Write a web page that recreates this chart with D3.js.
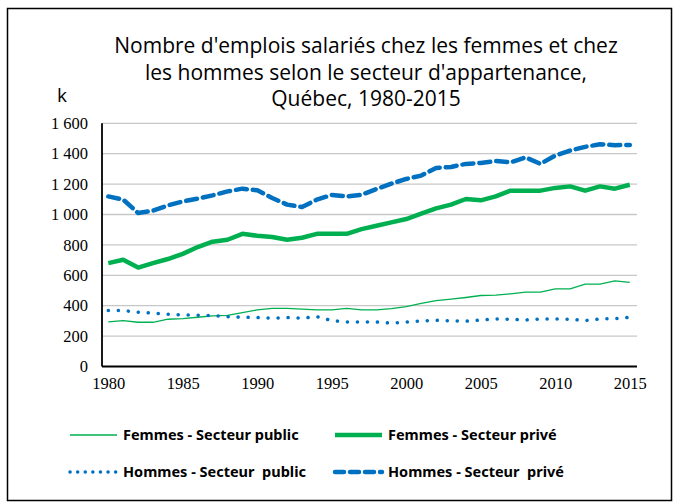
<!DOCTYPE html>
<html>
<head>
<meta charset="utf-8">
<title>Emplois salariés Québec</title>
<script src="https://cdn.jsdelivr.net/npm/d3@7/dist/d3.min.js"></script>
<style>
  body { margin: 0; background: #fff; }
  svg text { fill: #000; }
</style>
</head>
<body>
<svg id="chart" width="673" height="502"></svg>
<script>
// années 1980-2015
var years = d3.range(1980, 2016);

// valeurs en milliers (k)
var femmesPublic = [293, 302, 291, 291, 311, 315, 324, 333, 337, 355, 372, 383,
  383, 377, 372, 372, 383, 372, 372, 381, 394, 416, 434, 443, 454, 467, 469, 478,
  489, 489, 511, 511, 542, 542, 564, 553];
var femmesPrive = [680, 702, 651, 680, 707, 741, 786, 821, 834, 873, 860, 852,
  834, 847, 873, 873, 873, 904, 926, 948, 970, 1005, 1040, 1065, 1102, 1093, 1119, 1157,
  1157, 1157, 1175, 1185, 1157, 1185, 1170, 1196];
var hommesPublic = [368, 368, 357, 351, 344, 340, 337, 335, 328, 324, 322, 318,
  322, 318, 328, 302, 293, 293, 293, 285, 293, 300, 304, 300, 298, 306, 313, 311,
  306, 313, 313, 311, 302, 313, 315, 324];
var hommesPrive = [1119, 1098, 1010, 1025, 1060, 1086, 1104, 1126, 1152, 1170, 1159, 1109,
  1065, 1049, 1098, 1129, 1119, 1130, 1168, 1203, 1234, 1256, 1306, 1313, 1333, 1339, 1352, 1343,
  1376, 1333, 1388, 1421, 1445, 1462, 1456, 1458];

var yTicks = [0, 200, 400, 600, 800, 1000, 1200, 1400, 1600];
var xTicks = [1980, 1985, 1990, 1995, 2000, 2005, 2010, 2015];
var titleLines = ["Nombre d'emplois salariés chez les femmes et chez",
  "les hommes selon le secteur d'appartenance,",
  "Québec, 1980-2015"];

var green = "#00b050", blue = "#0070c0";
var series = [
  {name: "Femmes - Secteur public", values: femmesPublic, color: green, width: 1.3, dash: null, cap: "butt"},
  {name: "Femmes - Secteur privé", values: femmesPrive, color: green, width: 4.5, dash: null, cap: "butt"},
  {name: "Hommes - Secteur  public", values: hommesPublic, color: blue, width: 3.5, dash: "0.1 9.9", cap: "round"},
  {name: "Hommes - Secteur  privé", values: hommesPrive, color: blue, width: 4.5, dash: "11 6", cap: "round"}
];

var svg = d3.select("#chart");

// cadre
svg.append("rect")
  .attr("x", 7.5).attr("y", 8.5)
  .attr("width", 664).attr("height", 492)
  .attr("fill", "none").attr("stroke", "#000").attr("stroke-width", 1.5);

var x = d3.scaleLinear().domain([1980, 2015]).range([108.3, 629.8]);
var y = d3.scaleLinear().domain([0, 1600]).range([366.5, 123.3]);
var plotLeft = 102, plotRight = 637;

// titre
svg.append("g").selectAll("text")
  .data(titleLines)
  .enter().append("text")
  .attr("x", 366)
  .attr("y", function(d, i) { return 53 + i * 26.5; })
  .attr("text-anchor", "middle")
  .style("font-family", "'Open Sans', sans-serif")
  .style("font-size", "21px")
  .text(function(d) { return d; });

svg.append("text")
  .attr("x", 57).attr("y", 102)
  .style("font-family", "'Open Sans', sans-serif")
  .style("font-size", "19px")
  .text("k");

// grille
svg.append("g").selectAll("line")
  .data(yTicks.slice(1))
  .enter().append("line")
  .attr("x1", plotLeft).attr("x2", plotRight)
  .attr("y1", function(d) { return y(d); })
  .attr("y2", function(d) { return y(d); })
  .attr("stroke", "#c8c8c8").attr("stroke-width", 1.3);

// axe y
var yAxis = svg.append("g")
  .attr("transform", "translate(" + plotLeft + ",0)")
  .call(d3.axisLeft(y).tickValues(yTicks).tickSize(0).tickPadding(14)
    .tickFormat(function(d) { return d3.format(",")(d).replace(",", " "); }));
yAxis.select(".domain").remove();
yAxis.selectAll("text")
  .style("font-family", "'Liberation Serif', serif")
  .style("font-size", "16.5px");

// axe x
var xAxis = svg.append("g")
  .attr("transform", "translate(0," + y(0) + ")")
  .call(d3.axisBottom(x).tickValues(xTicks).tickSize(0).tickPadding(11)
    .tickFormat(d3.format("d")));
xAxis.select(".domain").remove();
xAxis.selectAll("text")
  .style("font-family", "'Liberation Serif', serif")
  .style("font-size", "16.5px");

svg.append("line")
  .attr("x1", plotLeft).attr("x2", plotLeft)
  .attr("y1", y(1600)).attr("y2", y(0))
  .attr("stroke", "#000").attr("stroke-width", 1.8);
svg.append("line")
  .attr("x1", plotLeft).attr("x2", plotRight)
  .attr("y1", y(0)).attr("y2", y(0))
  .attr("stroke", "#000").attr("stroke-width", 1.8);

// courbes
var line = d3.line()
  .x(function(d, i) { return x(years[i]); })
  .y(function(d) { return y(d); });

svg.append("g").selectAll("path")
  .data(series)
  .enter().append("path")
  .attr("d", function(s) { return line(s.values); })
  .attr("fill", "none")
  .attr("stroke", function(s) { return s.color; })
  .attr("stroke-width", function(s) { return s.width; })
  .attr("stroke-dasharray", function(s) { return s.dash; })
  .attr("stroke-linecap", function(s) { return s.cap; })
  .attr("stroke-linejoin", "round");

// légende
var legend = svg.append("g").selectAll("g")
  .data(series)
  .enter().append("g")
  .attr("transform", function(s, i) {
    return "translate(" + (i % 2 === 0 ? 70 : 335) + "," + (i < 2 ? 435 : 472) + ")";
  });
legend.append("line")
  .attr("x1", 0).attr("x2", 47).attr("y1", 0).attr("y2", 0)
  .attr("stroke", function(s) { return s.color; })
  .attr("stroke-width", function(s) { return s.width; })
  .attr("stroke-dasharray", function(s) { return s.dash ? (s.cap === "round" && s.width < 4 ? "0.1 7.5" : "9 6") : null; })
  .attr("stroke-linecap", function(s) { return s.cap; });
legend.append("text")
  .attr("x", 53).attr("y", 5)
  .style("font-family", "'Noto Sans', sans-serif")
  .style("font-size", "14.5px")
  .style("font-weight", "bold")
  .style("white-space", "pre")
  .text(function(s) { return s.name; });
</script>
</body>
</html>
